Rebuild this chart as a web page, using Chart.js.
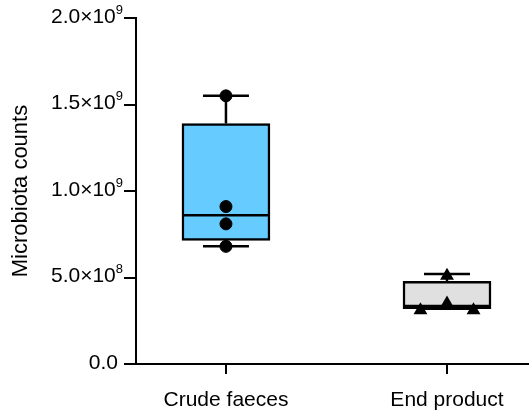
<!DOCTYPE html>
<html>
<head>
<meta charset="utf-8">
<script src="https://cdn.jsdelivr.net/npm/chart.js@4/dist/chart.umd.min.js"></script>
<style>
html,body{margin:0;padding:0;background:#fff;}
#wrap{width:529px;height:413px;}
</style>
</head>
<body>
<div id="wrap"><canvas id="c" width="529" height="413"></canvas></div>
<script>
// ---- data ----
const categories = ['Crude faeces', 'End product'];
const yTickValues = [0, 0.5e9, 1.0e9, 1.5e9, 2.0e9];
const yTickMain = ['0.0', '5.0×10', '1.0×10', '1.5×10', '2.0×10'];
const yTickExp  = ['', '8', '9', '9', '9'];

const boxMin    = [0.68e9, 0.32e9];
const boxQ1     = [0.715e9, 0.32e9];
const boxMedian = [0.86e9, 0.335e9];
const boxQ3     = [1.39e9, 0.4775e9];
const boxMax    = [1.55e9, 0.52e9];

const crudePoints = [1.55e9, 0.91e9, 0.81e9, 0.68e9];
const crudeJitter = [0, 0, 0, 0];
const endPoints   = [0.51e9, 0.35e9, 0.31e9, 0.31e9];
const endJitter   = [0, 0, -0.12, 0.12];

// ---- layout / style constants ----
const CAP_HALF = 0.104;   // half width of whisker caps (x units)
const BOX_HALF = 0.199;   // half width of box (x units), for median line
const X_MIN = 0.593, X_MAX = 2.371;
const FONT = '"Liberation Sans", Arial, Helvetica, sans-serif';

// whisker + median segments built from stats
const segs = [];
categories.forEach((c, i) => {
  const x = i + 1;
  segs.push({x: x, y: boxQ3[i]}, {x: x, y: boxMax[i]}, {x: x, y: null});
  segs.push({x: x - CAP_HALF, y: boxMax[i]}, {x: x + CAP_HALF, y: boxMax[i]}, {x: x, y: null});
  segs.push({x: x, y: boxQ1[i]}, {x: x, y: boxMin[i]}, {x: x, y: null});
  segs.push({x: x - CAP_HALF, y: boxMin[i]}, {x: x + CAP_HALF, y: boxMin[i]}, {x: x, y: null});
  segs.push({x: x - BOX_HALF, y: boxMedian[i]}, {x: x + BOX_HALF, y: boxMedian[i]}, {x: x, y: null});
});

const boxes = categories.map((c, i) => ({x: i + 1, y: [boxQ1[i], boxQ3[i]]}));
const crudeData = crudePoints.map((v, j) => ({x: 1 + crudeJitter[j], y: v}));
const endData = endPoints.map((v, j) => ({x: 2 + endJitter[j], y: v}));

// y tick labels with true superscript exponents, positioned via the y scale
const supLabels = {
  id: 'supLabels',
  afterDraw(chart) {
    const ctx = chart.ctx;
    const ys = chart.scales.y;
    const right = ys.right - 19;
    ctx.save();
    ctx.fillStyle = '#000';
    yTickValues.forEach((v, k) => {
      const py = ys.getPixelForValue(v);
      ctx.font = '13px ' + FONT;
      const supW = yTickExp[k] ? ctx.measureText(yTickExp[k]).width : 0;
      if (yTickExp[k]) {
        ctx.textAlign = 'left';
        ctx.textBaseline = 'alphabetic';
        ctx.fillText(yTickExp[k], right - supW + 6, py - 4.5);
      }
      ctx.font = '21px ' + FONT;
      ctx.textAlign = 'right';
      ctx.textBaseline = 'middle';
      ctx.fillText(yTickMain[k], yTickExp[k] ? right - supW + 6 : right + 1, py - 1);
    });
    ctx.restore();
  }
};

new Chart(document.getElementById('c'), {
  type: 'bar',
  data: {
    datasets: [
      {
        type: 'bar',
        data: boxes,
        backgroundColor: ['#66CCFF', '#E0E0E0'],
        borderColor: '#000',
        borderWidth: 2.5,
        borderSkipped: false,
        barThickness: 88,
        order: 3
      },
      {
        type: 'line',
        data: segs,
        borderColor: '#000',
        borderWidth: 2.5,
        pointRadius: 0,
        spanGaps: false,
        fill: false,
        order: 2
      },
      {
        type: 'scatter',
        data: crudeData,
        pointStyle: 'circle',
        pointRadius: 6,
        pointBackgroundColor: '#000',
        pointBorderColor: '#000',
        pointBorderWidth: 1,
        order: 1
      },
      {
        type: 'scatter',
        data: endData,
        pointStyle: 'triangle',
        pointRadius: 8,
        pointBackgroundColor: '#000',
        pointBorderColor: '#000',
        pointBorderWidth: 0,
        order: 0
      }
    ]
  },
  options: {
    responsive: false,
    animation: false,
    layout: { padding: {left: 0, top: 18, right: 0, bottom: 0}, autoPadding: false },
    plugins: { legend: {display: false}, tooltip: {enabled: false} },
    scales: {
      x: {
        type: 'linear',
        min: X_MIN,
        max: X_MAX,
        offset: false,
        afterBuildTicks: (s) => { s.ticks = categories.map((c, i) => ({value: i + 1})); },
        afterFit: (s) => { s.height = 49; },
        grid: { offset: false, drawOnChartArea: false, drawTicks: true, tickLength: 10, color: '#000', lineWidth: 2 },
        border: { display: true, color: '#000', width: 2 },
        ticks: {
          color: '#000',
          font: { family: FONT, size: 21 },
          padding: 14,
          maxRotation: 0,
          autoSkip: false,
          callback: (v) => categories[Math.round(v) - 1] || ''
        }
      },
      y: {
        type: 'linear',
        min: 0,
        max: 2.0e9,
        afterBuildTicks: (s) => { s.ticks = yTickValues.map(v => ({value: v})); },
        afterFit: (s) => { s.width = 136; },
        grid: { drawOnChartArea: false, drawTicks: true, tickLength: 12, color: '#000', lineWidth: 2 },
        border: { display: true, color: '#000', width: 2 },
        ticks: {
          color: 'rgba(0,0,0,0)',
          font: { family: FONT, size: 21 },
          padding: 3,
          autoSkip: false,
          callback: () => ''
        },
        title: {
          display: true,
          text: 'Microbiota counts',
          color: '#000',
          font: { family: FONT, size: 22 },
          padding: { top: 8, bottom: 0 }
        }
      }
    }
  },
  plugins: [supLabels]
});
</script>
</body>
</html>
